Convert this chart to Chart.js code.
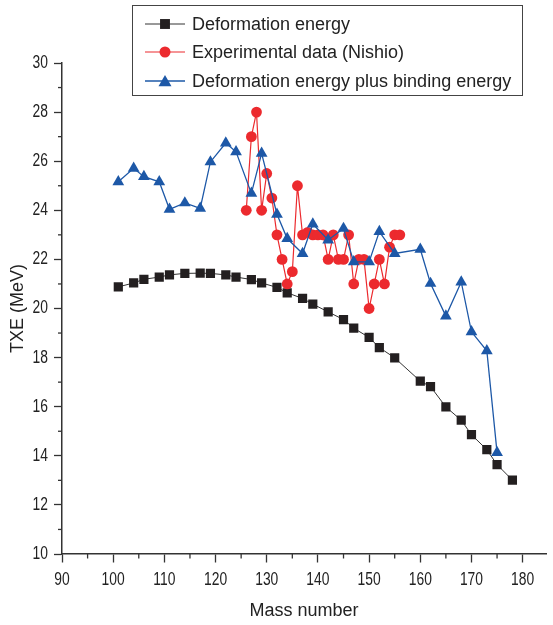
<!DOCTYPE html>
<html><head><meta charset="utf-8">
<script src="https://cdn.jsdelivr.net/npm/chart.js@4.4.0/dist/chart.umd.min.js"></script>
<style>html,body{margin:0;padding:0;background:#fff}canvas{display:block}</style>
</head><body>
<canvas id="c" width="553" height="625"></canvas>
<script>
const seriesNames = ['Deformation energy', 'Experimental data (Nishio)', 'Deformation energy plus binding energy'];
const massDeform = [101,104,106,109,111,114,117,119,122,124,127,129,132,134,137,139,142,145,147,150,152,155,160,162,165,168,170,173,175,178];
const txeDeform  = [20.88,21.04,21.19,21.28,21.37,21.43,21.44,21.43,21.37,21.28,21.18,21.04,20.86,20.64,20.41,20.18,19.86,19.55,19.20,18.82,18.41,17.99,17.04,16.82,15.99,15.45,14.86,14.25,13.64,13.01];
const massExp = [126,127,128,129,130,131,132,133,134,135,136,137,138,139,140,141,142,143,144,145,146,147,148,149,150,151,152,153,154,155,156];
const txeExp  = [24.0,27.0,28.0,24.0,25.5,24.5,23.0,22.0,21.0,21.5,25.0,23.0,23.1,23.0,23.0,23.0,22.0,23.0,22.0,22.0,23.0,21.0,22.0,22.0,20.0,21.0,22.0,21.0,22.5,23.0,23.0];
const massBind = [101,104,106,109,111,114,117,119,122,124,127,129,132,134,137,139,142,145,147,150,152,155,160,162,165,168,170,173,175];
const txeBind  = [25.16,25.71,25.37,25.16,24.04,24.30,24.08,25.97,26.74,26.38,24.69,26.32,23.84,22.85,22.24,23.44,22.79,23.26,21.90,21.90,23.13,22.24,22.41,21.02,19.69,21.08,19.05,18.28,14.13];
const xTicks = [90,100,110,120,130,140,150,160,170,180];
const xMinor = [95,105,115,125,135,145,155,165,175];
const yTicks = [10,12,14,16,18,20,22,24,26,28,30];
const yMinor = [11,13,15,17,19,21,23,25,27,29];
const xTitle = 'Mass number';
const yTitle = 'TXE (MeV)';

const BLACK = '#231f20', RED = '#ec2a2e', BLUE = '#1d58a7', AXIS = '#333333';
const tickFont = { family: "'Liberation Sans',Arial,sans-serif", size: 18 };
const titleFont = { family: "'Liberation Sans',Arial,sans-serif", size: 18 };
const CONDENSE = 0.77;

function pts(xs, ys) { return xs.map((x, i) => ({ x: x, y: ys[i] })); }

const styles = [
  { color: BLACK, line: '#333', style: 'rect', r: 6.5, lw: 1 },
  { color: RED, line: RED, style: 'circle', r: 5.4, lw: 1.2 },
  { color: BLUE, line: BLUE, style: 'triangle', r: 6.8, lw: 1.3 }
];

function drawMarker(ctx, s, x, y, r) {
  ctx.save();
  ctx.fillStyle = s.color;
  ctx.beginPath();
  if (s.style === 'rect') {
    const h = r * Math.SQRT1_2;
    ctx.rect(x - h, y - h, 2 * h, 2 * h);
  } else if (s.style === 'circle') {
    ctx.arc(x, y, r, 0, Math.PI * 2);
  } else {
    ctx.moveTo(x, y - r);
    ctx.lineTo(x + r * Math.sin(Math.PI * 2 / 3), y - r * Math.cos(Math.PI * 2 / 3));
    ctx.lineTo(x + r * Math.sin(Math.PI * 4 / 3), y - r * Math.cos(Math.PI * 4 / 3));
    ctx.closePath();
  }
  ctx.fill();
  ctx.restore();
}

// tick labels drawn by Chart.js, horizontally condensed like the reference typeface
function condensedLabels(scale) {
  if (scale._condensed) return;
  scale._condensed = true;
  const orig = scale.drawLabels;
  scale.drawLabels = function (area) {
    const ctx = this.ctx;
    const f = ctx.fillText;
    ctx.fillText = function (t, x, y) {
      const w = ctx.measureText(t).width;
      return f.call(ctx, t, x, y, w * CONDENSE);
    };
    try { orig.call(this, area); } finally { delete ctx.fillText; }
  };
}

const extras = {
  id: 'extras',
  afterDraw(chart) {
    const ctx = chart.ctx;
    const xs = chart.scales.x, ys = chart.scales.y;
    ctx.save();
    ctx.strokeStyle = AXIS;
    ctx.lineWidth = 1.3;
    xMinor.forEach(v => {
      const p = xs.getPixelForValue(v);
      ctx.beginPath(); ctx.moveTo(p, ys.bottom); ctx.lineTo(p, ys.bottom + 4.5); ctx.stroke();
    });
    yMinor.forEach(v => {
      const p = ys.getPixelForValue(v);
      ctx.beginPath(); ctx.moveTo(xs.left, p); ctx.lineTo(xs.left - 4, p); ctx.stroke();
    });
    // legend
    ctx.strokeStyle = '#444';
    ctx.lineWidth = 1;
    ctx.strokeRect(132.5, 5.5, 390, 90);
    const rows = [24, 52, 81];
    ctx.font = "18px 'Liberation Sans',Arial,sans-serif";
    ctx.textBaseline = 'middle';
    ctx.textAlign = 'left';
    seriesNames.forEach((name, i) => {
      const s = styles[i];
      const y = rows[i];
      ctx.strokeStyle = s.line;
      ctx.lineWidth = s.lw;
      ctx.beginPath(); ctx.moveTo(145, y); ctx.lineTo(185, y); ctx.stroke();
      drawMarker(ctx, s, 165, i === 2 ? y + 1.5 : y, s.style === 'rect' ? 7 : (s.style === 'circle' ? 5.5 : 7.5));
      ctx.fillStyle = '#222';
      ctx.fillText(name, 192, y + 1);
    });
    ctx.restore();
  }
};

function ds(label, data, i, order) {
  const s = styles[i];
  return {
    label: label, data: data, showLine: true, order: order,
    borderColor: s.line, borderWidth: s.lw,
    backgroundColor: s.color, pointBackgroundColor: s.color, pointBorderColor: s.color,
    pointBorderWidth: 0, pointStyle: s.style, pointRadius: s.r, pointHoverRadius: s.r,
    tension: 0, fill: false
  };
}

new Chart(document.getElementById('c'), {
  type: 'scatter',
  data: {
    datasets: [
      ds(seriesNames[0], pts(massDeform, txeDeform), 0, 2),
      ds(seriesNames[1], pts(massExp, txeExp), 1, 1),
      ds(seriesNames[2], pts(massBind, txeBind), 2, 0)
    ]
  },
  options: {
    responsive: false,
    animation: false,
    events: [],
    layout: { padding: { top: 63, left: 0, right: 0, bottom: 0 } },
    plugins: { legend: { display: false }, tooltip: { enabled: false } },
    scales: {
      x: {
        type: 'linear', min: 90, max: 184.6,
        afterBuildTicks(s) { s.ticks = xTicks.map(v => ({ value: v })); },
        afterFit(s) { s.height = 71; },
        afterUpdate(s) { condensedLabels(s); },
        ticks: { font: tickFont, color: '#222', padding: 7, maxRotation: 0, autoSkip: false },
        grid: { drawOnChartArea: false, drawTicks: true, tickLength: 8.5, tickColor: AXIS, tickWidth: 1.3 },
        border: { display: true, color: AXIS, width: 1.5 },
        title: { display: true, text: xTitle, font: titleFont, color: '#222', padding: { top: 0, bottom: 3 } }
      },
      y: {
        type: 'linear', min: 10, max: 30,
        afterBuildTicks(s) { s.ticks = yTicks.map(v => ({ value: v })); },
        afterFit(s) { s.width = 62; },
        afterUpdate(s) { condensedLabels(s); },
        ticks: { font: tickFont, color: '#222', padding: 6, autoSkip: false },
        grid: { drawOnChartArea: false, drawTicks: true, tickLength: 8, tickColor: AXIS, tickWidth: 1.3 },
        border: { display: true, color: AXIS, width: 1.5 },
        title: { display: true, text: yTitle, font: titleFont, color: '#222', padding: { top: 7, bottom: 0 } }
      }
    }
  },
  plugins: [extras]
});
</script>
</body></html>
